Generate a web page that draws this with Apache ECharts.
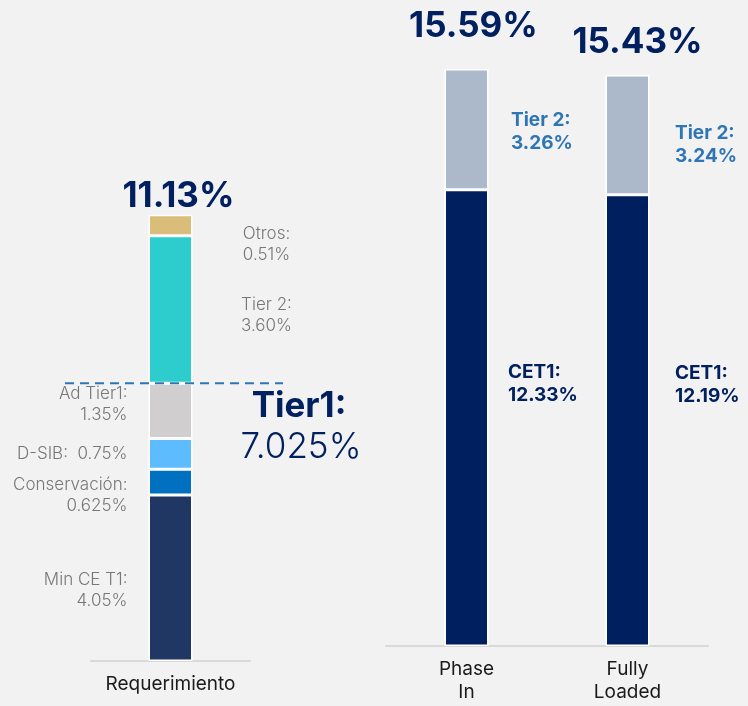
<!DOCTYPE html>
<html><head><meta charset="utf-8">
<script src="https://cdn.jsdelivr.net/npm/echarts@6/dist/echarts.min.js"></script>
<style>html,body{margin:0;padding:0;background:#f2f2f2}#c{width:748px;height:706px}</style>
</head><body><div id="c"></div>
<script>
// Requirement build-up (left bar), stacked bottom to top
const reqCategory = ['Requerimiento'];
const reqNames = ['Min CE T1', 'Conservación', 'D-SIB', 'Ad Tier1', 'Tier 2', 'Otros'];
const reqValues = [4.05, 0.625, 0.75, 1.35, 3.60, 0.51];
const reqTotal = 11.13;
const tier1Requirement = 7.025;
const tier1LayerCount = 4; // the first four layers form the Tier 1 requirement

// Capital ratios (right bars)
const capCategories = ['Phase In', 'Fully Loaded'];
const cet1Values = [12.33, 12.19];
const tier2Values = [3.26, 3.24];
const capTotals = [15.59, 15.43];

// ---- styling ----
const FONT_BIG = 'Inter';
const FONT = 'Inter';
const BIG_SIZE = 35;
const reqColors = ['#213763', '#0070c0', '#5dbcfd', '#d0cece', '#2ecdcd', '#dabd79'];
const reqLabelSide = ['left', 'left', 'left', 'left', 'right', 'right'];
const reqLabelDy = [12, 13, 0, -7, 6, 19];

function pct(v) {
  const d = Math.round(v * 1000) % 10 ? 3 : 2;
  return v.toFixed(d) + '%';
}

const border = { borderColor: '#ffffff', borderWidth: 1.5 };
const series = [];

reqValues.forEach((v, i) => {
  const side = reqLabelSide[i];
  const oneLine = reqNames[i] === 'D-SIB';
  series.push({
    type: 'bar', name: reqNames[i], stack: 'req',
    xAxisIndex: 0, yAxisIndex: 0, barWidth: 44,
    itemStyle: Object.assign({ color: reqColors[i] }, border),
    label: {
      show: true,
      position: side,
      distance: side === 'left' ? 21 : 74,
      align: side === 'left' ? 'right' : 'center',
      offset: [0, reqLabelDy[i]],
      fontFamily: FONT, fontSize: 17, lineHeight: 21, fontWeight: 300,
      color: '#777777',
      formatter: p => reqNames[i] + (oneLine ? ':  ' : ':\n') + pct(p.value)
    },
    data: [v]
  });
});

// zero-height cap carrying the total requirement label
series.push({
  type: 'bar', name: 'total-req', stack: 'req',
  xAxisIndex: 0, yAxisIndex: 0, barWidth: 44,
  itemStyle: { color: 'transparent', borderWidth: 0 },
  label: {
    show: true, position: 'top', distance: 2, offset: [8, 4],
    fontFamily: FONT_BIG, fontSize: BIG_SIZE, lineHeight: 40, fontWeight: 'bold',
    color: '#002060',
    formatter: () => pct(reqTotal)
  },
  data: [0]
});

const cetDist = [19.5, 25.5], cetDy = [-34, -36];
const t2Dist = [22.5, 25.5], t2Dy = [2, 10];
const capLabelBase = { show: true, position: 'right', fontFamily: FONT, fontSize: 19, lineHeight: 23, fontWeight: 'bold' };

series.push({
  type: 'bar', name: 'CET1', stack: 'cap',
  xAxisIndex: 1, yAxisIndex: 1, barWidth: 44,
  itemStyle: Object.assign({ color: '#001f5e' }, border),
  data: cet1Values.map((v, i) => ({
    value: v,
    label: Object.assign({}, capLabelBase, {
      distance: cetDist[i], offset: [0, cetDy[i]], color: '#002060',
      formatter: p => 'CET1:\n' + pct(p.value)
    })
  }))
});
series.push({
  type: 'bar', name: 'Tier 2', stack: 'cap',
  xAxisIndex: 1, yAxisIndex: 1, barWidth: 44,
  itemStyle: Object.assign({ color: '#acb9ca' }, border),
  data: tier2Values.map((v, i) => ({
    value: v,
    label: Object.assign({}, capLabelBase, {
      distance: t2Dist[i], offset: [0, t2Dy[i]], color: '#2e75b6',
      formatter: p => 'Tier 2:\n' + pct(p.value)
    })
  }))
});
const totDist = [24, 13];
const totDx = [7, 10];
series.push({
  type: 'bar', name: 'total-cap', stack: 'cap',
  xAxisIndex: 1, yAxisIndex: 1, barWidth: 44,
  itemStyle: { color: 'transparent', borderWidth: 0 },
  data: capTotals.map((t, i) => ({
    value: 0,
    label: {
      show: true, position: 'top', distance: totDist[i], offset: [totDx[i], 1],
      fontFamily: FONT_BIG, fontSize: BIG_SIZE, lineHeight: 40, fontWeight: 'bold',
      color: '#002060',
      formatter: () => pct(t)
    }
  }))
});

const axisLineStyle = { show: true, lineStyle: { color: '#d9d9d9', width: 2 } };
const axisLabelStyle = { fontFamily: FONT, fontSize: 19, lineHeight: 23, color: '#1a1a1a', margin: 12 };

const chart = echarts.init(document.getElementById('c'), null, { renderer: 'canvas' });
chart.setOption({
  backgroundColor: '#f2f2f2',
  animation: false,
  grid: [
    { left: 91, width: 159, top: 5, bottom: 45 },
    { left: 386, width: 322, top: 2, bottom: 60 }
  ],
  xAxis: [
    { type: 'category', gridIndex: 0, data: reqCategory, axisLine: axisLineStyle, axisTick: { show: false },
      axisLabel: axisLabelStyle },
    { type: 'category', gridIndex: 1, data: capCategories, axisLine: axisLineStyle, axisTick: { show: false },
      axisLabel: Object.assign({}, axisLabelStyle, { formatter: s => s.replace(' ', '\n') }) }
  ],
  yAxis: [
    { type: 'value', gridIndex: 0, min: 0, max: 16, show: false, splitLine: { show: false } },
    { type: 'value', gridIndex: 1, min: 0, max: 17.4, show: false, splitLine: { show: false } }
  ],
  series: series
});

// Tier 1 boundary: dashed rule across the requirement bar, plus its annotation
const tier1Top = reqValues.slice(0, tier1LayerCount).reduce((a, b) => a + b, 0);
const yRule = chart.convertToPixel({ xAxisIndex: 0, yAxisIndex: 0 }, [0, tier1Top])[1];
chart.setOption({
  graphic: [
    { type: 'line', z: 100, shape: { x1: 65, y1: yRule, x2: 283, y2: yRule },
      style: { stroke: '#2e75b6', lineWidth: 2, lineDash: [9, 6] } },
    { type: 'text', z: 100, x: 299, y: yRule + 23,
      style: { text: 'Tier1:', fontFamily: FONT_BIG, fontSize: BIG_SIZE, fontWeight: 'bold', fill: '#002060',
               textAlign: 'center', textVerticalAlign: 'middle' } },
    { type: 'text', z: 100, x: 301, y: yRule + 64,
      style: { text: pct(tier1Requirement), fontFamily: FONT_BIG, fontSize: 35, fontWeight: 300, fill: '#002060',
               textAlign: 'center', textVerticalAlign: 'middle' } }
  ]
});
</script>
</body></html>
